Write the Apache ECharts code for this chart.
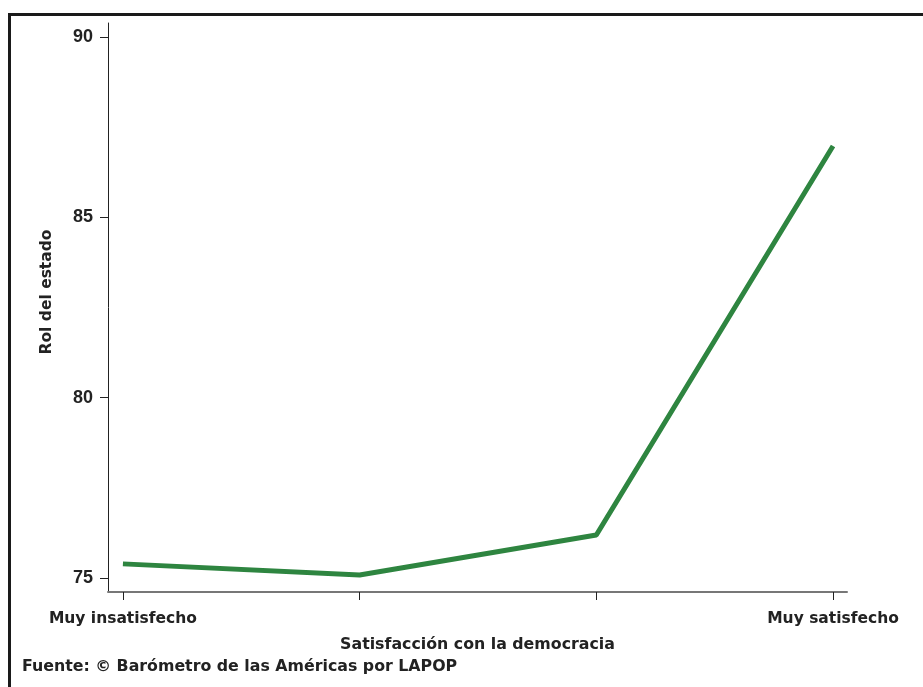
<!DOCTYPE html>
<html>
<head>
<meta charset="utf-8">
<script src="https://cdn.jsdelivr.net/npm/echarts@6/dist/echarts.min.js"></script>
<style>html,body{margin:0;padding:0;background:#fff}#c{width:923px;height:687px}</style>
</head>
<body>
<div id="c"></div>
<script>
const categories = ['Muy insatisfecho', '', '', 'Muy satisfecho'];
const values = [75.39, 75.08, 76.19, 86.98];
const yTicks = [75, 80, 85, 90];
const xTicks = [0, 1, 2, 3];

const font = '"DejaVu Sans", Arial, sans-serif';
const numFont = '"Liberation Sans", Arial, Helvetica, sans-serif';
const chart = echarts.init(document.getElementById('c'), null, {renderer: 'canvas'});
chart.setOption({
  animation: false,
  backgroundColor: '#fff',
  grid: {left: 108, right: 76, top: 23, bottom: 95},
  xAxis: {
    type: 'value', min: -0.063, max: 3.059,
    name: 'Satisfacción con la democracia', nameLocation: 'middle', nameGap: 45,
    nameTextStyle: {fontFamily: font, fontWeight: 'bold', fontSize: 15.8, color: '#222'},
    splitLine: {show: false},
    axisLine: {show: true, onZero: false, lineStyle: {color: '#777', width: 2}},
    axisTick: {show: true, length: 8, customValues: xTicks, lineStyle: {color: '#222', width: 1}},
    axisLabel: {customValues: xTicks, margin: 19, fontFamily: font, fontWeight: 'bold', fontSize: 15.5, color: '#222',
      formatter: v => categories[Math.round(v)] || ''}
  },
  yAxis: {
    type: 'value', min: 74.61, max: 90.39,
    splitLine: {show: false},
    axisLine: {show: true, onZero: false, lineStyle: {color: '#222', width: 1}},
    axisTick: {show: true, length: 8, customValues: yTicks, lineStyle: {color: '#222', width: 1}},
    axisLabel: {customValues: yTicks, margin: 15, fontFamily: numFont, fontWeight: 'bold', fontSize: 18, color: '#222'}
  },
  series: [{
    type: 'line',
    data: values.map((v, i) => [i, v]),
    symbol: 'none',
    lineStyle: {color: '#2e8540', width: 5}
  }],
  graphic: [
    {type: 'polyline', shape: {points: [[9.5, 700], [9.5, 14.5], [930, 14.5]]},
     style: {stroke: '#1a1a1a', lineWidth: 3, fill: null}},
    {type: 'text', x: 47, y: 292, rotation: Math.PI / 2,
     style: {text: 'Rol del estado', font: 'bold 15.5px ' + font, fill: '#222', align: 'center', verticalAlign: 'middle'}},
    {type: 'text', x: 22, y: 667,
     style: {text: 'Fuente: © Barómetro de las Américas por LAPOP', font: 'bold 15.8px ' + font, fill: '#222', align: 'left', verticalAlign: 'middle'}}
  ]
});
</script>
</body>
</html>
